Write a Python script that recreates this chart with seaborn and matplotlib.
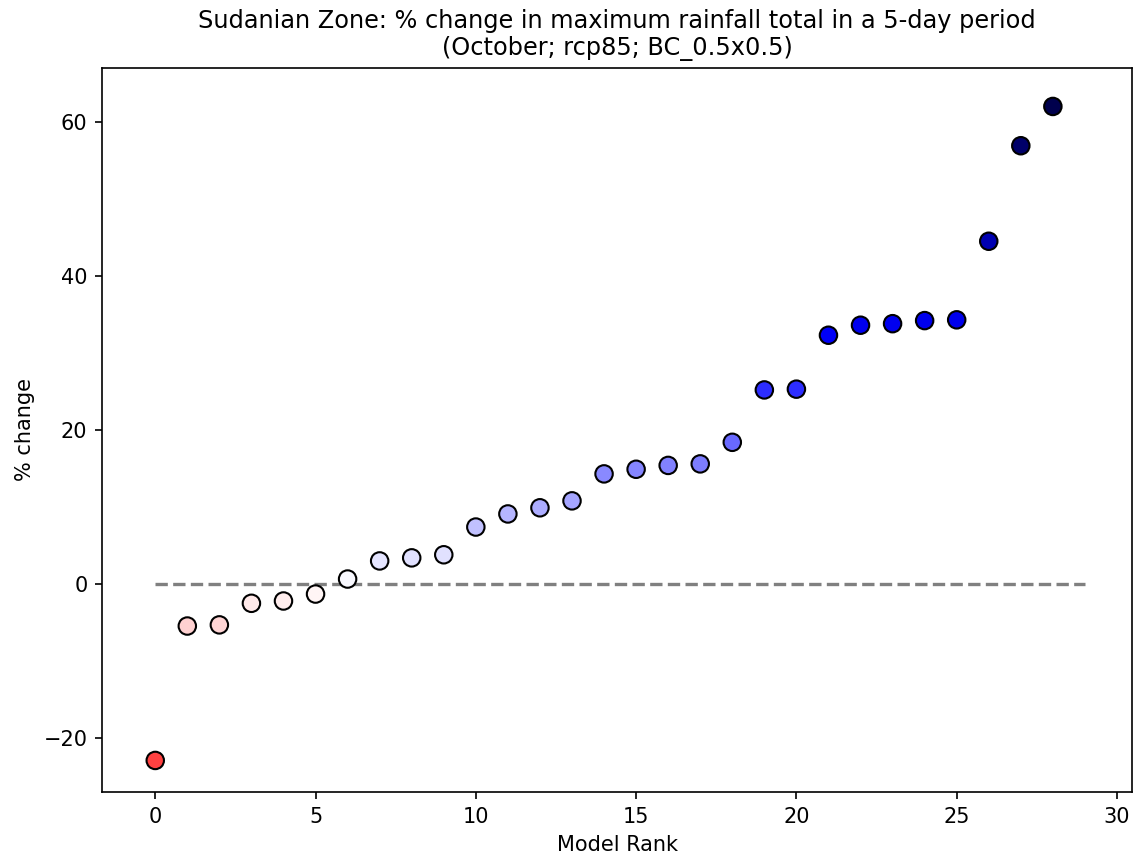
import numpy as np
import pandas as pd
import seaborn as sns
import matplotlib.pyplot as plt
from matplotlib.colors import Normalize

# % change per model, sorted (rank 0 = lowest)
model_rank = list(range(29))
pct_change = [-22.9, -5.45, -5.3, -2.5, -2.2, -1.3, 0.65, 3.0, 3.4, 3.8,
              7.4, 9.1, 9.9, 10.8, 14.3, 14.9, 15.4, 15.6, 18.4, 25.2,
              25.3, 32.3, 33.6, 33.8, 34.2, 34.3, 44.5, 56.9, 62.0]

title_txt = ("Sudanian Zone: % change in maximum rainfall total in a 5-day period\n"
             "(October; rcp85; BC_0.5x0.5)")

df = pd.DataFrame({'rank': model_rank, 'pct': pct_change})
vmax = np.abs(df['pct']).max()

fig = plt.figure(figsize=(1135/150, 861/150), dpi=150)
ax = fig.add_axes([0.0899, 0.0801, 0.9075, 0.841])

ax.hlines(0, 0, len(model_rank), colors='grey', linestyles='--', linewidth=1.6, zorder=1)
sns.scatterplot(data=df, x='rank', y='pct', hue='pct', palette='seismic_r',
                hue_norm=Normalize(-vmax, vmax), edgecolor='k', linewidth=1.0,
                s=70, legend=False, ax=ax, zorder=2)

ax.set_xlim(-1.66, 30.47)
ax.set_ylim(-27.0, 67.0)
ax.set_xlabel('Model Rank')
ax.set_ylabel('% change')
ax.set_title(title_txt, fontsize=11.5)

fig.savefig('out.png', dpi=150)
